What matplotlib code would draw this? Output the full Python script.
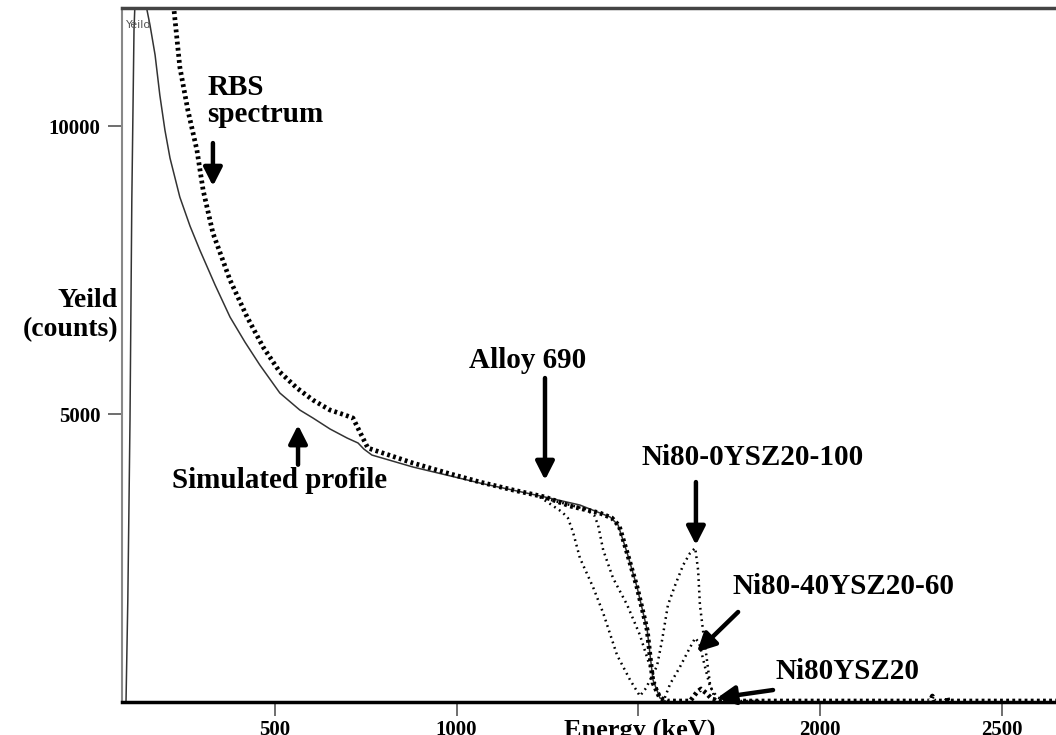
import matplotlib
matplotlib.use("Agg")
import matplotlib.pyplot as plt

plt.rcParams['font.family'] = ['Liberation Serif', 'DejaVu Serif']

# ---------------- data (energy keV, yield counts) ----------------
sim_energy = [91, 96, 102, 107, 113, 118, 129, 140, 146, 157, 171, 184, 198, 212,
              239, 267, 294, 336, 377, 418, 459, 514, 569, 605, 652, 699, 729, 745,
              767, 880, 1064, 1243, 1339, 1422, 1444, 1469, 1496, 1524, 1540, 1559,
              1579, 2648]
sim_yield = [0, 1771, 4896, 8715, 11667, 12535, 12882, 12535, 12101, 11753, 11233,
             10538, 9931, 9444, 8767, 8264, 7847, 7240, 6684, 6250, 5851, 5365, 5069,
             4931, 4740, 4583, 4497, 4392, 4288, 4080, 3802, 3559, 3420, 3212, 3073,
             2587, 1997, 1250, 382, 69, 0, 0]

rbs_energy = [217, 223, 239, 261, 286, 303, 330, 377, 424, 468, 514, 561, 605, 652,
              693, 715, 734, 756, 789, 880, 974, 1064, 1155, 1243, 1312, 1394, 1427,
              1447, 1469, 1496, 1524, 1540, 1559, 1579, 1642, 1661, 1672, 1686, 1702,
              1724, 2302, 2308, 2313, 2346, 2349, 2351, 2648]
rbs_yield = [12274, 12014, 11024, 10278, 9583, 8889, 8142, 7326, 6684, 6163, 5729,
             5451, 5243, 5069, 4983, 4931, 4688, 4410, 4340, 4149, 3976, 3819, 3681,
             3559, 3403, 3281, 3194, 3056, 2587, 1997, 1250, 330, 69, 17, 17, 174,
             226, 156, 52, 17, 17, 104, 17, 17, 87, 17, 17]

ysz60_energy = [1229, 1353, 1378, 1389, 1403, 1430, 1469, 1504, 1526, 1540, 1554,
                1570, 1587, 1614, 1641, 1656, 1667, 1683, 1697, 1716, 1738, 1834]
ysz60_yield = [3559, 3351, 3247, 3073, 2639, 2153, 1684, 1163, 729, 434, 174, 35,
               313, 608, 938, 1111, 1024, 608, 260, 87, 17, 17]

ysz100_energy = [1229, 1290, 1306, 1320, 1339, 1375, 1403, 1441, 1477, 1504, 1521,
                 1537, 1551, 1565, 1581, 1601, 1623, 1642, 1656, 1664, 1669, 1678,
                 1689, 1697, 1711, 1730, 1834]
ysz100_yield = [3559, 3299, 3194, 2951, 2500, 1997, 1545, 816, 382, 104, 243, 451,
                625, 1076, 1684, 2031, 2378, 2587, 2674, 2292, 1684, 1215, 694, 295,
                52, 17, 17]

x_ticks = [500, 1000, 1500, 2000, 2500]
x_tick_labels = ['500', '1000', '', '2000', '2500']
y_ticks = [5000, 10000]
y_tick_labels = ['5000', '10000']

# ---------------- figure ----------------
W, H = 1056, 735
fig = plt.figure(figsize=(W / 100, H / 100), dpi=100)
ax = fig.add_axes([122 / W, (H - 702) / H, (W - 122) / W, (702 - 8) / H])

ax.plot(sim_energy, sim_yield, color='#333333', lw=1.1, solid_joinstyle='round')
ax.plot(rbs_energy, rbs_yield, color='black', lw=3.4, linestyle=(0, (0.6, 0.7)))
ax.plot(ysz60_energy, ysz60_yield, color='black', lw=1.8, linestyle=(0, (0.7, 1.6)))
ax.plot(ysz100_energy, ysz100_yield, color='black', lw=1.8, linestyle=(0, (0.7, 1.6)))

ax.set_xlim(80, 2648)
ax.set_ylim(0, 12050)

ax.set_xticks(x_ticks)
ax.set_xticklabels(x_tick_labels, fontsize=15, fontweight='bold')
ax.set_yticks(y_ticks)
ax.set_yticklabels(y_tick_labels, fontsize=15, fontweight='bold')
ax.tick_params(axis='x', direction='out', length=10, width=1.2, color='#555555', pad=3)
ax.tick_params(axis='y', direction='out', length=10, width=1.2, color='#555555', pad=5.5)

ax.spines['right'].set_visible(False)
ax.spines['left'].set_color('#888888')
ax.spines['left'].set_linewidth(1.5)
ax.spines['top'].set_color('#444444')
ax.spines['top'].set_linewidth(2.5)
ax.spines['bottom'].set_color('black')
ax.spines['bottom'].set_linewidth(2.5)

# axis labels
fig.text(118 / W, 1 - 315 / H, 'Yeild\n(counts)', fontsize=20, fontweight='bold',
         ha='right', va='center', multialignment='right', linespacing=1.25)
ax.text(1504, -280, 'Energy (keV)', fontsize=19, fontweight='bold',
        ha='center', va='top', clip_on=False)
ax.text(90, 11850, 'Yeild', fontsize=8, color='#555555', family='DejaVu Sans',
        ha='left', va='top')

# annotations
tfont = dict(fontsize=21, fontweight='bold', color='black')
arrow = dict(arrowstyle='-|>,head_length=0.55,head_width=0.28', lw=3.2,
             color='black', shrinkA=0, shrinkB=0, mutation_scale=20)

ax.text(314, 10900, 'RBS\nspectrum', ha='left', va='top', linespacing=1.0, **tfont)
ax.annotate('', xy=(330, 8958), xytext=(330, 9705), arrowprops=arrow)

ax.text(514, 4080, 'Simulated profile', ha='center', va='top', **tfont)
ax.annotate('', xy=(564, 4809), xytext=(564, 4120), arrowprops=arrow)

ax.text(1196, 5938, 'Alloy 690', ha='center', va='center', **tfont)
ax.annotate('', xy=(1243, 3854), xytext=(1243, 5625), arrowprops=arrow)

ax.text(1815, 4253, 'Ni80-0YSZ20-100', ha='center', va='center', **tfont)
ax.annotate('', xy=(1658, 2726), xytext=(1658, 3819), arrowprops=arrow)

ax.text(2065, 1997, 'Ni80-40YSZ20-60', ha='center', va='center', **tfont)
ax.annotate('', xy=(1661, 868), xytext=(1774, 1563), arrowprops=arrow)

ax.text(2074, 521, 'Ni80YSZ20', ha='center', va='center', **tfont)
ax.annotate('', xy=(1716, 69), xytext=(1870, 208), arrowprops=arrow)

fig.savefig('out.png', dpi=100)
